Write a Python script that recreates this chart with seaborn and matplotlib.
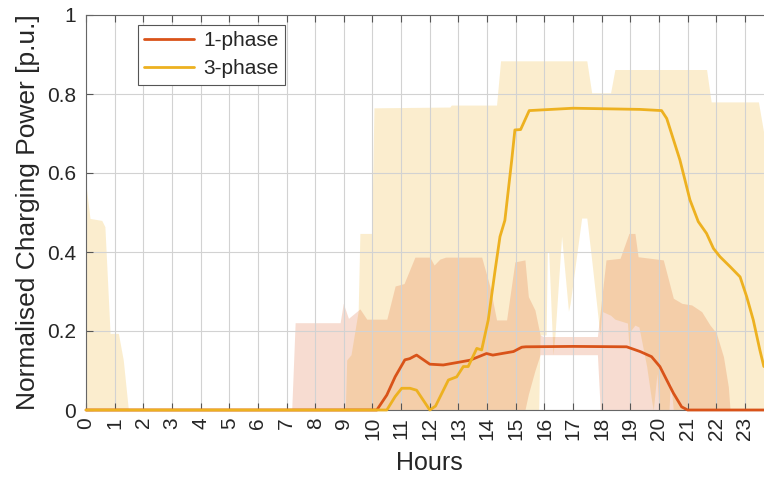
import numpy as np
import pandas as pd
import matplotlib
matplotlib.use("Agg")
import matplotlib.pyplot as plt
import seaborn as sns

# mean curves (hours, normalised power)
hours_1ph = [0, 10.15, 10.5, 10.79, 11.13, 11.3, 11.48, 11.54, 12.0, 12.47, 12.94, 13.4,
             13.98, 14.2, 14.92, 15.21, 15.35, 17.0, 18.87, 19.34, 19.74, 20.03, 20.5,
             20.79, 21.0, 23.66]
power_1ph = [0, 0, 0.038, 0.084, 0.127, 0.13, 0.137, 0.139, 0.116, 0.114, 0.12, 0.126,
             0.143, 0.139, 0.148, 0.159, 0.16, 0.161, 0.16, 0.148, 0.135, 0.11, 0.043,
             0.008, 0, 0]

hours_3ph = [0, 10.5, 10.79, 11.02, 11.31, 11.54, 12.0, 12.2, 12.65, 12.94, 13.17, 13.34,
             13.64, 13.81, 14.04, 14.28, 14.45, 14.62, 14.86, 14.97, 15.17, 15.47, 17.0,
             19.34, 20.09, 20.27, 20.73, 21.08, 21.37, 21.66, 21.9, 22.13, 22.48, 22.83,
             23.06, 23.29, 23.52, 23.66]
power_3ph = [0, 0, 0.034, 0.055, 0.055, 0.05, 0, 0.01, 0.076, 0.084, 0.11, 0.11,
             0.156, 0.152, 0.228, 0.354, 0.439, 0.48, 0.633, 0.709, 0.71, 0.758, 0.764,
             0.761, 0.758, 0.738, 0.633, 0.532, 0.477, 0.447, 0.409, 0.388, 0.363, 0.337,
             0.287, 0.228, 0.152, 0.11]

# spread bands
band_x_1ph = [0, 7.18, 7.3, 8.87, 8.98, 9.16, 9.56, 9.8, 10.5, 10.79, 11.1, 11.48, 12.0,
              12.15, 12.35, 12.55, 13.81, 14.1, 14.33, 14.68, 14.97, 15.32, 15.44, 15.67,
              15.85, 15.96, 17.85, 17.95, 18.15, 18.64, 18.95, 19.16, 19.27, 20.15, 20.5,
              20.8, 21.14, 21.49, 21.78, 22.0, 22.25, 22.42, 22.48, 23.66]
band_lo_1ph = [0, 0, 0, 0, 0, 0, 0, 0, 0, 0, 0, 0, 0,
               0, 0, 0, 0, 0, 0, 0, 0, 0, 0.04, 0.10,
               0.14, 0.14, 0.14, 0, 0, 0, 0, 0, 0, 0, 0,
               0, 0, 0, 0, 0, 0, 0, 0, 0]
band_hi_1ph = [0, 0, 0.221, 0.221, 0.27, 0.232, 0.256, 0.23, 0.23, 0.314, 0.32, 0.387, 0.387,
               0.367, 0.382, 0.387, 0.387, 0.312, 0.228, 0.228, 0.375, 0.38, 0.287, 0.253,
               0.19, 0.186, 0.186, 0.25, 0.38, 0.384, 0.447, 0.447, 0.388, 0.38, 0.283,
               0.27, 0.266, 0.249, 0.215, 0.195, 0.135, 0.059, 0, 0]

band_x_3ph = [0, 0.14, 0.55, 0.66, 0.84, 1.13, 1.3, 1.48, 9.05, 9.1, 9.25, 9.5, 9.56, 9.97,
              10.05, 12.7, 12.75, 14.33, 14.47, 15.8, 15.85, 16.06, 16.1, 16.15, 16.3,
              16.37, 16.6, 16.84, 16.9, 17.3, 17.48, 17.65, 17.94, 18.0, 18.31, 18.46,
              18.9, 18.95, 19.0, 19.16, 19.3, 19.57, 19.74, 19.8, 19.93, 20.0, 20.35,
              20.4, 20.5, 21.66, 21.82, 23.47, 23.66]
band_lo_3ph = [0, 0, 0, 0, 0, 0, 0, 0, 0, 0, 0, 0, 0, 0,
               0, 0, 0, 0, 0, 0, 0.19, 0.19, 0.40, 0.40, 0.14,
               0.19, 0.44, 0.25, 0.27, 0.486, 0.486, 0.38, 0.19, 0.25, 0.24, 0.23,
               0.22, 0.16, 0.2, 0.215, 0.21, 0.11, 0.025, 0, 0.093, 0, 0,
               0.076, 0, 0, 0, 0, 0]
band_hi_3ph = [0.57, 0.485, 0.48, 0.464, 0.194, 0.194, 0.127, 0, 0, 0.127, 0.14, 0.25, 0.447, 0.447,
               0.765, 0.767, 0.772, 0.772, 0.884, 0.884, 0.884, 0.884, 0.884, 0.884, 0.884,
               0.884, 0.884, 0.884, 0.884, 0.884, 0.884, 0.803, 0.803, 0.803, 0.803, 0.862,
               0.862, 0.862, 0.862, 0.862, 0.862, 0.862, 0.862, 0.862, 0.862, 0.862, 0.862,
               0.862, 0.862, 0.862, 0.78, 0.78, 0.70]

labels = ["1-phase", "3-phase"]
colors = {"1-phase": "#D95319", "3-phase": "#EDB120"}
hour_ticks = list(range(0, 24))

df = pd.concat([
    pd.DataFrame({"Hours": hours_1ph, "Power": power_1ph, "Type": labels[0]}),
    pd.DataFrame({"Hours": hours_3ph, "Power": power_3ph, "Type": labels[1]}),
])

sns.set_style("white")
plt.rcParams['font.family'] = ['Liberation Sans', 'DejaVu Sans']

fig = plt.figure(figsize=(7.64, 4.78), dpi=100)
ax = fig.add_axes([86 / 764, 1 - 410 / 478, 24 * 28.65 / 764, 395 / 478])

ax.fill_between(band_x_3ph, band_lo_3ph, band_hi_3ph, color=colors["3-phase"],
                alpha=0.22, linewidth=0, zorder=1)
ax.fill_between(band_x_1ph, band_lo_1ph, band_hi_1ph, color=colors["1-phase"],
                alpha=0.2, linewidth=0, zorder=1)

sns.lineplot(data=df, x="Hours", y="Power", hue="Type", palette=colors,
             linewidth=2, ax=ax, zorder=3)
for ln in ax.lines:
    ln.set_clip_on(False)

ax.set_xlim(0, 24)
ax.set_ylim(0, 1)
ax.set_xticks(hour_ticks)
ax.set_xticklabels([str(h) for h in hour_ticks], rotation=90)
ax.set_yticks([0, 0.2, 0.4, 0.6, 0.8, 1])
ax.set_yticklabels(["0", "0.2", "0.4", "0.6", "0.8", "1"])
ax.set_axisbelow("line")
ax.grid(True, color="#d2d2d2", linewidth=0.8)

ax.tick_params(axis="both", direction="in", length=5, width=0.8, color="#555555",
               labelsize=15, labelcolor="#262626", top=True, bottom=True, left=True)
ax.tick_params(axis="x", pad=5)
ax.tick_params(axis="y", pad=7)
for s in ax.spines.values():
    s.set_color("#666666")
    s.set_linewidth(0.8)

ax.set_xlabel("Hours", fontsize=18, color="#262626", labelpad=8)
ax.set_ylabel("Normalised Charging Power [p.u.]", fontsize=19, color="#262626", labelpad=5)

leg = ax.legend(loc="upper left", bbox_to_anchor=(0.0756, 0.975), borderaxespad=0,
                fontsize=15, handlelength=2.4, handletextpad=0.45, fancybox=False,
                framealpha=1, edgecolor="#555555", borderpad=0.3, labelspacing=0.45)
leg.get_frame().set_linewidth(0.8)
leg.set_title(None)

fig.savefig("out.png", dpi=100)
